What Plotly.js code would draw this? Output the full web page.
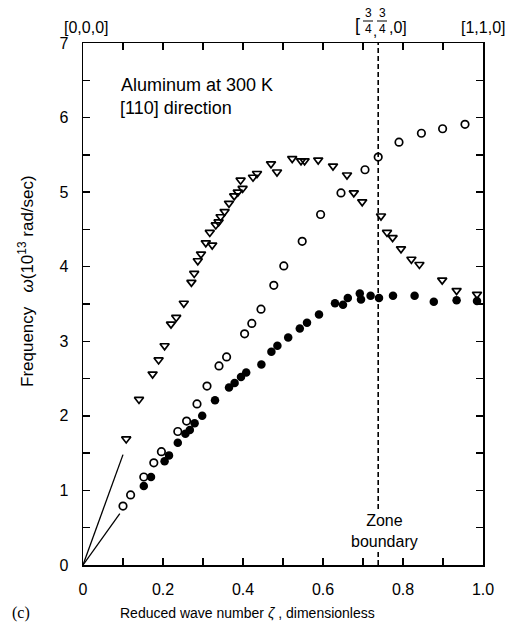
<!DOCTYPE html>
<html>
<head>
<meta charset="utf-8">
<script src="https://cdn.plot.ly/plotly-3.0.1.min.js"></script>
<style>html,body{margin:0;padding:0;background:#fff;}#chart{width:511px;height:632px;}</style>
</head>
<body>
<div id="chart"></div>
<script>
// Transverse branch (open down-triangles)
const triX = [0.108,0.140,0.174,0.189,0.204,0.220,0.233,0.252,0.271,0.278,0.287,0.295,0.307,0.317,0.323,0.332,0.339,0.344,0.354,0.365,0.378,0.387,0.394,0.399,0.425,0.435,0.470,0.485,0.523,0.545,0.554,0.588,0.625,0.660,0.677,0.698,0.745,0.760,0.774,0.795,0.821,0.841,0.898,0.934,0.985];
const triY = [1.69,2.22,2.56,2.75,2.94,3.23,3.32,3.51,3.79,3.91,4.08,4.17,4.32,4.46,4.29,4.56,4.60,4.67,4.74,4.85,4.95,5.00,5.16,5.05,5.20,5.25,5.38,5.27,5.45,5.42,5.42,5.43,5.35,5.23,4.99,4.87,4.68,4.46,4.39,4.24,4.10,4.03,3.82,3.68,3.63];
// Open circles
const openX = [0.100,0.119,0.152,0.177,0.196,0.237,0.259,0.285,0.310,0.340,0.359,0.404,0.422,0.445,0.477,0.502,0.548,0.594,0.645,0.705,0.738,0.790,0.846,0.899,0.955];
const openY = [0.79,0.94,1.18,1.37,1.52,1.79,1.93,2.16,2.40,2.67,2.79,3.10,3.24,3.43,3.75,4.01,4.34,4.70,4.99,5.30,5.47,5.67,5.79,5.85,5.91];
// Filled circles
const fillX = [0.152,0.170,0.204,0.215,0.237,0.256,0.267,0.279,0.298,0.330,0.365,0.379,0.395,0.408,0.446,0.471,0.486,0.513,0.542,0.560,0.590,0.630,0.650,0.662,0.692,0.695,0.719,0.740,0.775,0.829,0.877,0.934,0.985];
const fillY = [1.06,1.18,1.39,1.47,1.64,1.76,1.81,1.90,2.00,2.21,2.38,2.44,2.52,2.58,2.69,2.86,2.94,3.05,3.17,3.25,3.36,3.51,3.49,3.58,3.64,3.56,3.61,3.58,3.61,3.61,3.53,3.55,3.54];
// Long-wavelength slope lines from origin
const slopeTX = [0, 0.100], slopeTY = [0, 1.48];
const slopeLX = [0, 0.092], slopeLY = [0, 0.69];
// Zone boundary
const zoneX = 0.738;
const xTicks = [0,0.1,0.2,0.3,0.4,0.5,0.6,0.7,0.8,0.9,1.0];
const xTickText = ['0','','0.2','','0.4','','0.6','','0.8','','1.0'];
const yTicks = [0,0.5,1,1.5,2,2.5,3,3.5,4,4.5,5,5.5,6,6.5,7];
const yTickText = ['0','','1','','2','','3','','4','','5','','6','','7'];

const F = 'Liberation Sans, Arial, Helvetica, sans-serif';
const L = 83, T = 43, W = 400, H = 522;
const px = v => (v - L) / W;
const py = v => (T + H - v) / H;

const traces = [
  {x: slopeTX, y: slopeTY, mode: 'lines', line: {color: '#000', width: 1.3}, hoverinfo: 'skip'},
  {x: slopeLX, y: slopeLY, mode: 'lines', line: {color: '#000', width: 1.3}, hoverinfo: 'skip'},
  {x: [zoneX, zoneX], y: [0, 7], mode: 'lines', line: {color: '#000', width: 1.6, dash: '5px,3px'}, hoverinfo: 'skip'},
  {x: triX, y: triY, mode: 'markers', marker: {symbol: 'triangle-down-open', size: 8, color: '#000', line: {width: 1.7, color: '#000'}}},
  {x: openX, y: openY, mode: 'markers', marker: {symbol: 'circle-open', size: 7.5, color: '#000', line: {width: 1.7, color: '#000'}}},
  {x: fillX, y: fillY, mode: 'markers', marker: {symbol: 'circle', size: 8.5, color: '#000'}}
];

function ann(text, x, y, size, opts) {
  return Object.assign({text: text, x: px(x), y: py(y), xref: 'paper', yref: 'paper', showarrow: false,
    font: {family: F, size: size, color: '#000'}, xanchor: 'center', yanchor: 'middle'}, opts || {});
}

const annotations = [
  ann('[0,0,0]', 86, 28, 16),
  ann('[1,1,0]', 483, 28, 16),
  ann('[', 357, 25, 18),
  ann('3', 368, 13, 12),
  ann('4', 368, 29, 12),
  ann(',', 375, 30, 15),
  ann('3', 382, 13, 12),
  ann('4', 382, 29, 12),
  ann(',0]', 387, 28, 16, {xanchor: 'left'}),
  ann('Aluminum at 300 K', 119, 85, 18, {xanchor: 'left'}),
  ann('[110] direction', 118, 108, 18, {xanchor: 'left'}),
  ann('Zone<br>boundary', 384, 531, 16, {bgcolor: '#fff', borderpad: 0}),
  ann('Frequency &nbsp;&nbsp;<i>ω</i>(10<sup>13</sup> rad/sec)', 26, 281, 17, {textangle: -90}),
  ann('Reduced wave number <i>ζ</i> , dimensionless', 247, 613, 14),
  ann('(c)', 21, 613, 16, {font: {family: 'Liberation Serif, Times New Roman, serif', size: 16, color: '#000'}})
];

const shapes = [
  {type: 'line', xref: 'paper', yref: 'paper', x0: px(363), x1: px(373), y0: py(21), y1: py(21), line: {color: '#000', width: 1}},
  {type: 'line', xref: 'paper', yref: 'paper', x0: px(377), x1: px(387), y0: py(21), y1: py(21), line: {color: '#000', width: 1}}
];

const axisCommon = {
  showgrid: false, zeroline: false, showline: true, linecolor: '#000', linewidth: 1.5,
  mirror: 'ticks', ticks: 'inside', ticklen: 7, tickwidth: 1.5, tickcolor: '#000',
  tickfont: {family: F, size: 16, color: '#000'}, tickmode: 'array'
};

const layout = {
  width: 511, height: 632,
  margin: {l: L, r: 511 - L - W, t: T, b: 632 - T - H},
  paper_bgcolor: '#fff', plot_bgcolor: '#fff',
  showlegend: false,
  xaxis: Object.assign({}, axisCommon, {range: [0, 1], tickvals: xTicks, ticktext: xTickText, ticklabelstandoff: 9}),
  yaxis: Object.assign({}, axisCommon, {range: [0, 7], tickvals: yTicks, ticktext: yTickText, ticklabelstandoff: 10}),
  annotations: annotations,
  shapes: shapes
};

Plotly.newPlot('chart', traces, layout, {displayModeBar: false, staticPlot: true});
</script>
</body>
</html>
